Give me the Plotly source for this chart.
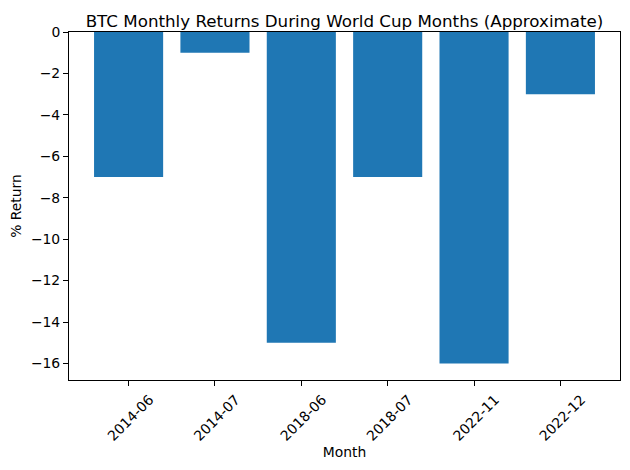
import plotly.graph_objects as go

months = ["2014-06", "2014-07", "2018-06", "2018-07", "2022-11", "2022-12"]
returns = [-7, -1, -15, -7, -16, -3]
y_ticks = [-16, -14, -12, -10, -8, -6, -4, -2, 0]

fig = go.Figure()
fig.add_trace(go.Bar(
    x=list(range(len(months))), y=returns, width=0.8,
    marker=dict(color="#1f77b4", line=dict(width=0)),
))

font = "DejaVu Sans"
fig.update_layout(
    width=630, height=470,
    margin=dict(l=69, r=10, t=32, b=90),
    plot_bgcolor="white", paper_bgcolor="white",
    showlegend=False,
    font=dict(family=font, size=13.9, color="black"),
    title=dict(text="BTC Monthly Returns During World Cup Months (Approximate)",
               x=0.5, xref="paper", xanchor="center",
               y=1, yref="paper", yanchor="bottom", pad=dict(b=5),
               font=dict(family=font, size=16.7, color="black")),
)
fig.update_xaxes(
    range=[-0.69, 5.69], tickmode="array",
    tickvals=list(range(len(months))), ticktext=months,
    tickangle=-45, ticklabelshift=21, ticklabelstandoff=0,
    ticks="outside", ticklen=5, tickcolor="black", tickwidth=1,
    showline=True, linecolor="black", linewidth=1, mirror=True,
    showgrid=False, zeroline=False,
    title=dict(text="Month", font=dict(size=13.9), standoff=4),
    tickfont=dict(size=13.9),
)
fig.update_yaxes(
    range=[-16.8, 0], tickmode="array", tickvals=y_ticks,
    ticks="outside", ticklen=5, tickcolor="black", tickwidth=1,
    showline=True, linecolor="black", linewidth=1, mirror=True,
    showgrid=False, zeroline=False,
    title=dict(text="% Return", font=dict(size=13.9), standoff=6),
    tickfont=dict(size=13.9),
)
fig.write_html("out.html")
